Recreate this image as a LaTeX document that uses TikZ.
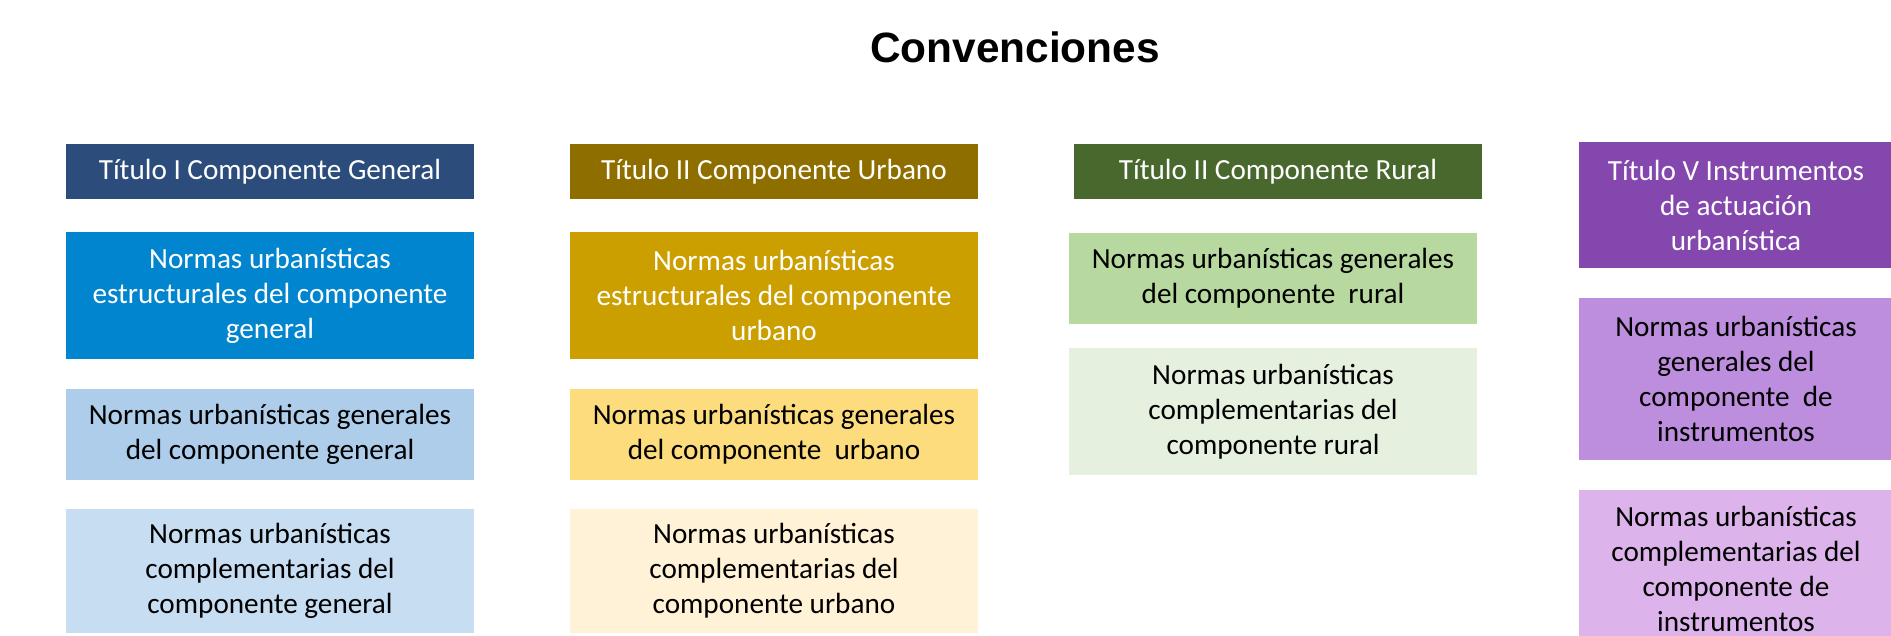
\documentclass[tikz,border=0pt]{standalone}
\usepackage{fontspec}
\setmainfont{Carlito}
\newfontfamily\cvheadfont{Liberation Sans}
\usepackage{xcolor}
\usepackage{tikz}
\usetikzlibrary{positioning}
\definecolor{cvnavy}{RGB}{44,77,123}
\definecolor{cvblue}{RGB}{0,133,206}
\definecolor{cvbluemid}{RGB}{173,205,234}
\definecolor{cvbluelight}{RGB}{199,221,241}
\definecolor{cvolive}{RGB}{143,110,0}
\definecolor{cvgold}{RGB}{204,159,0}
\definecolor{cvgoldmid}{RGB}{252,220,124}
\definecolor{cvgoldlight}{RGB}{255,242,214}
\definecolor{cvforest}{RGB}{72,104,46}
\definecolor{cvgreen}{RGB}{183,217,160}
\definecolor{cvgreenlight}{RGB}{229,240,223}
\definecolor{cvplum}{RGB}{131,71,174}
\definecolor{cvlilac}{RGB}{189,142,221}
\definecolor{cvlilaclight}{RGB}{220,180,235}
\tikzset{
  cvnode/.style={
    align=center,
    inner sep=0pt,
    outer sep=0pt,
    minimum width=204pt,
    font=\fontsize{14.6}{17.5}\selectfont,
    text=black
  },
  cvhead/.style={cvnode, text=white, minimum height=27.5pt},
  cvtall/.style={cvnode, minimum height=63.5pt},
  cvshort/.style={cvnode, minimum height=45.5pt},
  cvnarrow/.style={cvnode, minimum width=157pt}
}

\begin{document}
\begin{tikzpicture}[node distance=15pt and 48pt]
\useasboundingbox (0,0) rectangle (945.5pt,-318pt);
\clip (0,0) rectangle (945.5pt,-318pt);
\node[font=\cvheadfont\bfseries\fontsize{21.2}{25}\selectfont] (conv) at (507.5pt,-23.5pt) {Convenciones};
% columna general
\node[cvhead, fill=cvnavy, anchor=north west] (tgen) at (33pt,-72pt) {Título I Componente General};
\node[cvtall, fill=cvblue, text=white, below=16.5pt of tgen] (estgen) {Normas urbanísticas\\estructurales del componente\\general};
\node[cvshort, fill=cvbluemid, below=of estgen] (gengen) {Normas urbanísticas generales\\del componente general};
\node[cvnode, minimum height=62pt, fill=cvbluelight, below=14.5pt of gengen] (comgen) {Normas urbanísticas\\complementarias del\\componente general};
% columna urbano
\node[cvhead, fill=cvolive, right=of tgen] (turb) {Título II Componente Urbano};
\node[cvtall, fill=cvgold, text=white, below=16.5pt of turb] (esturb) {Normas urbanísticas\\estructurales del componente\\urbano};
\node[cvshort, fill=cvgoldmid, below=of esturb] (genurb) {Normas urbanísticas generales\\del componente~ urbano};
\node[cvnode, minimum height=62pt, fill=cvgoldlight, below=14.5pt of genurb] (comurb) {Normas urbanísticas\\complementarias del\\componente urbano};
% columna rural
\node[cvhead, fill=cvforest, right=of turb] (trur) {Título II Componente Rural};
\node[cvshort, fill=cvgreen, below=17pt of trur, xshift=-2.5pt] (genrur) {Normas urbanísticas generales\\del componente~ rural};
\node[cvtall, fill=cvgreenlight, below=12pt of genrur] (comrur) {Normas urbanísticas\\complementarias del\\componente rural};
% columna instrumentos
\node[cvnarrow, minimum height=63pt, fill=cvplum, text=white, right=48.5pt of trur.north east, anchor=north west, yshift=1pt] (tins) {Título V Instrumentos\\de actuación\\urbanística};
\node[cvnarrow, minimum height=81pt, fill=cvlilac, below=of tins] (genins) {Normas urbanísticas\\generales del\\componente~ de\\instrumentos};
\node[cvnarrow, minimum height=79pt, fill=cvlilaclight, below=of genins] (comins) {Normas urbanísticas\\complementarias del\\componente de\\instrumentos};
\end{tikzpicture}
\end{document}
